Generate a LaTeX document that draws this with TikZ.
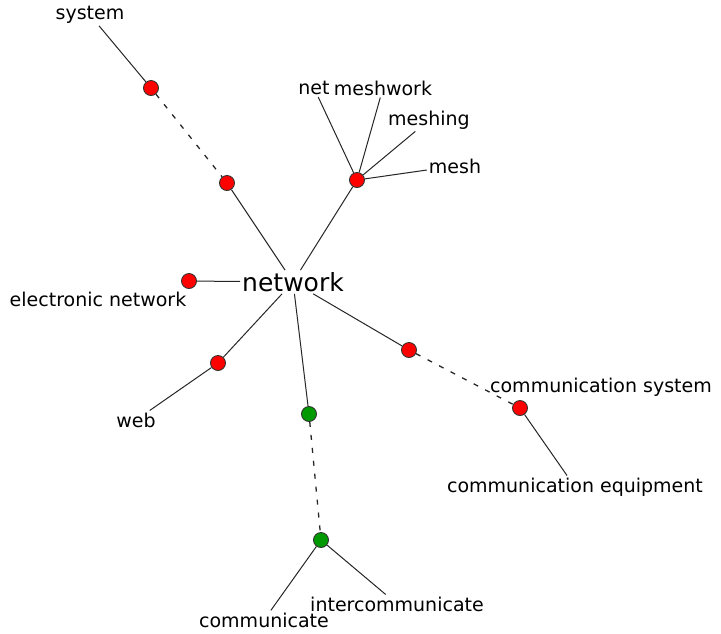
\documentclass[tikz,border=0pt]{standalone}
\usepackage{fontspec}
\setmainfont{DejaVu Sans}
\usepackage{tikz}

\tikzset{
  word/.style={inner sep=2pt,font=\fontsize{19}{22}\selectfont},
  syn/.style={circle,draw=black!80,line width=0.9pt,minimum size=15pt,inner sep=0pt,fill=red},
  gsyn/.style={syn,fill=green!60!black},
  link/.style={line width=1pt,black!85},
  hyper/.style={link,line width=1.3pt,dash pattern=on 5pt off 8pt}
}

\begin{document}
\begin{tikzpicture}[x=1pt,y=-1pt]
  \useasboundingbox (0,0) rectangle (721,633);
  % words
  \node[word,font=\fontsize{25}{28}\selectfont] (network) at (293,282) {network};
  \node[word] (system) at (90,15) {system};
  \node[word] (net) at (314,88) {net};
  \node[word] (meshwork) at (383,88) {meshwork};
  \node[word] (meshing) at (429,120) {meshing};
  \node[word] (mesh) at (455,166) {mesh};
  \node[word] (electronic) at (98,299) {electronic network};
  \node[word] (web) at (136,420) {web};
  \node[word] (commsys) at (601,387) {communication system};
  \node[word] (commequip) at (575,487) {communication equipment};
  \node[word] (intercomm) at (397,604) {intercommunicate};
  \node[word] (communicate) at (264,620) {communicate};
  % synsets
  \foreach \n/\x/\y in {s1/151/88,s2/227/183,s3/189/281,s4/357/180,s5/218/363,s6/409/350,s7/520/408}
    \node[syn] (\n) at (\x,\y) {};
  \foreach \n/\x/\y in {g1/309/414,g2/321/540}
    \node[gsyn] (\n) at (\x,\y) {};
  % links
  \foreach \a/\b in {system/s1,s2/network,s3/network,s4/network,s4/net,s4/meshwork,s4/meshing,s4/mesh,s5/network,s5/web,g1/network,g2/communicate,g2/intercomm,s6/network,s7/commequip}
    \draw[link] (\a) -- (\b);
  \foreach \a/\b in {s1/s2,g1/g2,s6/s7}
    \draw[hyper] (\a) -- (\b);
\end{tikzpicture}
\end{document}
